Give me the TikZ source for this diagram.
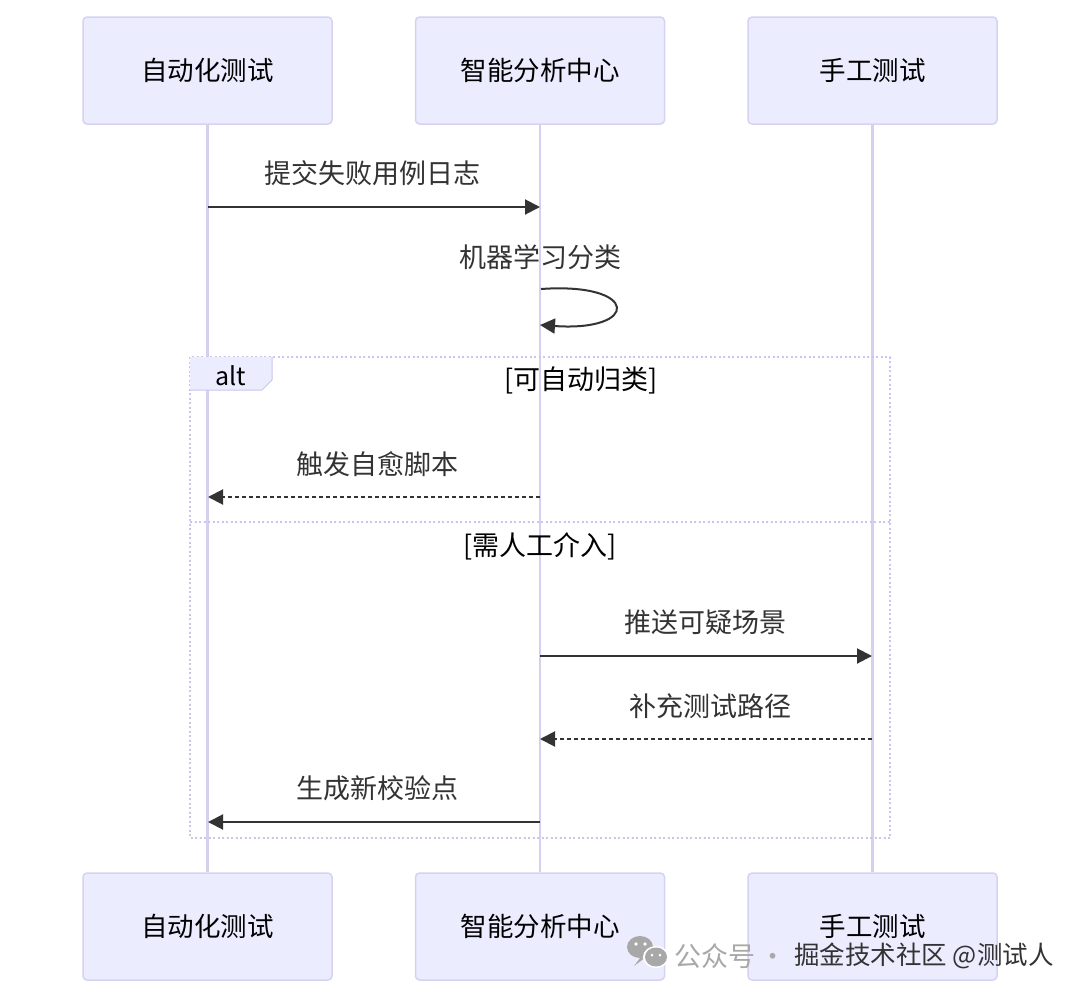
\documentclass[tikz,border=0pt]{standalone}
\usepackage{fontspec}
\setmainfont{Noto Sans CJK SC}
\usetikzlibrary{arrows.meta}
\definecolor{actfill}{HTML}{ECECFF}
\definecolor{actline}{HTML}{D6D2F2}
\definecolor{lifeline}{HTML}{D4D0F0}
\definecolor{ink}{HTML}{333333}
\definecolor{frameline}{HTML}{C8C6EC}
\definecolor{wm}{HTML}{A8A8A8}
\tikzset{
  actor/.style={draw=actline, fill=actfill, line width=1.5pt, rounded corners=4pt,
    minimum width=249pt, minimum height=107pt, inner sep=0pt, text=black,
    font=\fontsize{26.5}{30}\selectfont},
  lifel/.style={draw=lifeline, line width=2.5pt},
  msgtext/.style={text=ink, font=\fontsize{27}{30}\selectfont, inner sep=0pt},
  msg/.style={draw=ink, line width=2pt, -{Triangle[length=15pt,width=15pt]}},
  reply/.style={msg, dash pattern=on 4pt off 3pt},
  frame/.style={draw=frameline, line width=2pt, dash pattern=on 2pt off 2.5pt},
}
\begin{document}
\begin{tikzpicture}[x=1pt,y=-1pt]
\useasboundingbox[fill=white] (0,0) rectangle (1080,999);
% actors top
\node[actor] (a1) at (207.5,70.5) {自动化测试};
\node[actor] (a2) at (540,70.5) {智能分析中心};
\node[actor] (a3) at (872.5,70.5) {手工测试};
% actors bottom
\node[actor] (b1) at (207.5,926.5) {自动化测试};
\node[actor] (b2) at (540,926.5) {智能分析中心};
\node[actor] (b3) at (872.5,926.5) {手工测试};
% lifelines
\draw[lifel] (a1.south) -- (b1.north);
\draw[lifel] (a2.south) -- (b2.north);
\draw[lifel] (a3.south) -- (b3.north);
% coordinates on lifelines
\coordinate (p1a) at (208,207); \coordinate (p2a) at (540,207);
% message 1
\node[msgtext] (t1) at (372,173) {提交失败用例日志};
\draw[msg] (p1a) -- (p2a);
% self message
\node[msgtext] (t2) at (540,257) {机器学习分类};
\coordinate (s0) at (541,289);
\coordinate (s1) at (540,325);
\draw[msg] (s0) .. controls (640,282) and (640,332) .. (s1);
% alt frame
\draw[frame] (190,357) rectangle (890,838);
\fill[actfill] (190,357) -- (272,357) -- (272,380) -- (262,390) -- (190,390) -- cycle;
\draw[frameline, line width=1pt] (272,357) -- (272,380) -- (262,390) -- (190,390);
\node[msgtext, text=black, font=\fontsize{25}{30}\selectfont] (altlbl) at (231,376) {alt};
\node[msgtext, text=black] (c1) at (581,380) {[可自动归类]};
% message 3
\node[msgtext] (t3) at (377,464) {触发自愈脚本};
\coordinate (p2b) at (540,497); \coordinate (p1b) at (208,497);
\draw[reply] (p2b) -- (p1b);
% divider
\draw[frame] (190,522) -- (890,522);
\node[msgtext, text=black] (c2) at (540,546) {[需人工介入]};
% message 4
\node[msgtext] (t4) at (705,622) {推送可疑场景};
\coordinate (p2c) at (540,656); \coordinate (p3c) at (872,656);
\draw[msg] (p2c) -- (p3c);
% message 5
\node[msgtext] (t5) at (710,706) {补充测试路径};
\coordinate (p3d) at (872,739); \coordinate (p2d) at (540,739);
\draw[reply] (p3d) -- (p2d);
% message 6
\node[msgtext] (t6) at (377,788) {生成新校验点};
\coordinate (p2e) at (540,822); \coordinate (p1e) at (208,822);
\draw[msg] (p2e) -- (p1e);
% watermark
\fill[wm] (640,947) ellipse (13pt and 11pt);
\fill[wm] (640,958) -- (634,966) -- (646,957) -- cycle;
\fill[white] (656,957) ellipse (13pt and 11pt);
\fill[wm] (656,957) ellipse (11pt and 9.5pt);
\fill[white] (636,944) circle (1.8pt); \fill[white] (645,944) circle (1.8pt);
\fill[white] (652,955) circle (1.5pt); \fill[white] (660,955) circle (1.5pt);
\node[inner sep=0pt, anchor=west, text=wm, font=\fontsize{27}{30}\selectfont] (wm1) at (674,956) {公众号\,·};
\node[inner sep=0pt, anchor=west, text=ink, font=\fontsize{25.5}{30}\selectfont] (wm2) at (794,956) {掘金技术社区 @测试人};
\end{tikzpicture}
\end{document}
